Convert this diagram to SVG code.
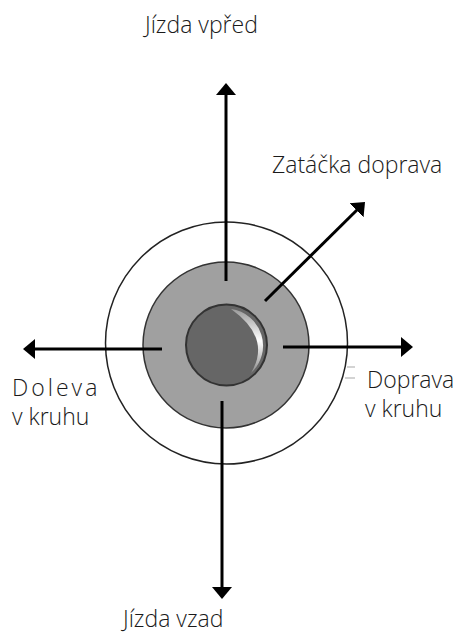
<svg xmlns="http://www.w3.org/2000/svg" width="459" height="635" viewBox="0 0 459 635">
  <defs>
    <style>
      .lbl { font-family: "Open Sans", "Liberation Sans", sans-serif; font-size: 23px; font-weight: 300; fill: #1a1a1a; }
      .conn { stroke: #000; stroke-width: 3; fill: none; marker-end: url(#arrow); }
      .tick { stroke: #c4c4c4; stroke-width: 1.5; }
    </style>
    <marker id="arrow" markerUnits="userSpaceOnUse" markerWidth="14" markerHeight="22" viewBox="0 -11 14 22" refX="1" refY="0" orient="auto">
      <path d="M0,-10 L12,0 L0,10 Z" fill="#000"/>
    </marker>
    <linearGradient id="hl" x1="0" y1="0" x2="0" y2="1">
      <stop offset="0" stop-color="#9a9a9a"/>
      <stop offset="0.5" stop-color="#ffffff"/>
      <stop offset="1" stop-color="#8a8a8a"/>
    </linearGradient>
  </defs>

  <g id="outer-ring">
    <circle cx="226.5" cy="343" r="121" fill="#fff" stroke="#222" stroke-width="1.5"/>
  </g>
  <g id="middle-ring">
    <circle cx="226" cy="345" r="83" fill="#a0a0a0" stroke="#333" stroke-width="1.5"/>
  </g>
  <g id="center-knob">
    <circle cx="226.5" cy="345" r="40.5" fill="#666" stroke="#333" stroke-width="2"/>
    <path d="M231,309 A37,37 0 0 1 251,373 Q272,338 231,309 Z" fill="url(#hl)"/>
  </g>
  <g id="tick-mark">
    <line class="tick" x1="347" y1="367" x2="355" y2="367"/>
    <line class="tick" x1="345" y1="378" x2="355" y2="378"/>
  </g>

  <g id="connectors">
    <line class="conn" x1="226" y1="281" x2="226" y2="94"/>
    <line class="conn" x1="222" y1="401" x2="222" y2="588"/>
    <line class="conn" x1="162" y1="349" x2="34" y2="349"/>
    <line class="conn" x1="283" y1="347" x2="402" y2="347"/>
    <line class="conn" x1="265" y1="301" x2="357.2" y2="209.7"/>
  </g>

  <g id="label-forward">
    <text class="lbl" x="145" y="33">Jízda vpřed</text>
  </g>
  <g id="label-turn-right">
    <text class="lbl" x="272" y="173">Zatáčka doprava</text>
  </g>
  <g id="label-left-circle">
    <text class="lbl" x="12" y="396" letter-spacing="3">Doleva</text>
    <text class="lbl" x="12" y="425">v kruhu</text>
  </g>
  <g id="label-right-circle">
    <text class="lbl" x="367" y="388">Doprava</text>
    <text class="lbl" x="365" y="417">v kruhu</text>
  </g>
  <g id="label-backward">
    <text class="lbl" x="123" y="627">Jízda vzad</text>
  </g>
</svg>
